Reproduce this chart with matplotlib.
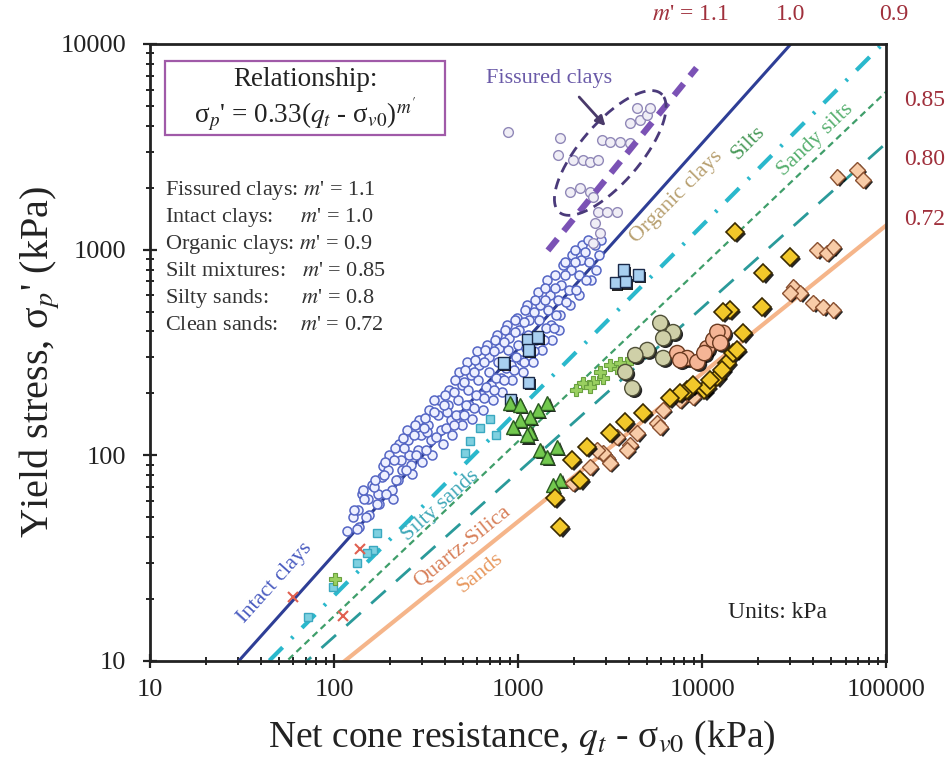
import numpy as np
import matplotlib.pyplot as plt
import matplotlib.patheffects as pe
from matplotlib.patches import Rectangle

plt.rcParams["font.family"] = ["Liberation Serif", "DejaVu Serif"]
plt.rcParams["mathtext.fontset"] = "stix"

# %%
# Relationship sigma_p' = 0.33 (q_t - sigma_v0)^m'
coef = 0.33
m_values = [1.0, 0.9, 0.85, 0.8, 0.72]
m_fissured = 1.1
fissured_range = [1450, 9300]

x_ticks = [10, 100, 1000, 10000, 100000]
y_ticks = [10, 100, 1000, 10000]

# %%
# Intact clays (open blue circles)
intact_q = [
    118, 126,
    134, 141, 137,
    152, 160, 155,
    172, 181, 176, 184,
    196, 205, 199, 208,
    222, 231, 226, 235,
    252, 262, 256, 266, 249,
    285, 298, 290, 301,
    322, 336, 328, 341, 318,
    368, 381, 372, 390,
    415, 432, 421, 438, 410,
    470, 492, 480, 498, 476,
    535, 556, 541, 560, 530,
    605, 628, 615, 640, 598,
    690, 712, 698, 725, 680,
    780, 806, 790, 820, 770,
    880, 915, 895, 930, 870,
    1000, 1040, 1015, 1060, 990,
    1130, 1175, 1150, 1200, 1120,
    1290, 1330, 1305, 1350, 1280,
    1460, 1510, 1480, 1530, 1440,
    1650, 1710, 1680, 1740, 1660,
    1880, 1940, 1900, 1970,
    2130, 2200, 2150, 2230,
    2420, 2480, 2400,
    2750, 2820,
]
intact_sig = [
    43, 50,
    54, 65, 45,
    61, 72, 51,
    65, 78, 58, 89,
    85, 68, 100, 61,
    76, 95, 113, 85,
    119, 90, 100, 81, 133,
    106, 126, 148, 93,
    140, 119, 166, 100, 130,
    157, 133, 186, 113,
    176, 148, 208, 126, 162,
    186, 220, 157, 140, 255,
    208, 245, 176, 150, 285,
    232, 197, 275, 166, 320,
    255, 220, 300, 186, 345,
    285, 237, 333, 204, 385,
    325, 275, 372, 232, 430,
    345, 291, 407, 255, 465,
    385, 325, 455, 285, 538,
    455, 372, 538, 325, 625,
    509, 430, 600, 364, 712,
    569, 673, 480, 840, 407,
    636, 796, 538, 940,
    755, 890, 600, 1050,
    870, 712, 1114,
    940, 1114,
]
intact_q2 = [
    128, 133,
    145, 149, 143,
    164, 170, 166,
    186, 192, 188,
    211, 217, 213,
    240, 246, 238,
    272, 280, 275,
    308, 316, 311,
    350, 358, 347,
    396, 405, 399,
    450, 460, 452, 447,
    510, 522, 514, 507,
    578, 590, 582, 575,
    655, 668, 660, 650,
    742, 756, 748, 738,
    842, 858, 848, 836,
    955, 972, 960, 950,
    1080, 1100, 1090, 1075,
    1225, 1250, 1235, 1220,
    1390, 1415, 1400, 1385,
    1575, 1600, 1585, 1570,
    1790, 1815, 1800,
    2030, 2060, 2040,
    2300, 2330,
    2600, 2650,
]
intact_sig2 = [
    54, 44,
    61, 50, 68,
    70, 58, 76,
    80, 65, 93,
    95, 76, 108,
    108, 85, 122,
    126, 100, 140,
    135, 106, 151,
    162, 123, 186,
    176, 135, 197,
    204, 157, 232, 140,
    227, 176, 260, 157,
    255, 197, 291, 170,
    285, 214, 325, 190,
    320, 237, 364, 208,
    356, 266, 407, 232,
    398, 300, 455, 260,
    445, 333, 509, 285,
    498, 364, 569, 320,
    569, 416, 650, 364,
    650, 480, 755, 416,
    755, 556, 870,
    870, 636, 995,
    970, 712,
    1050, 796,
]

# Fissured clays (grey open circles)
fiss_q = [1690, 1650, 1990, 2250, 2460, 2720, 2860, 3160, 3580, 4060, 4060, 4600, 5030,
          4440, 5210, 1920, 2170, 2460, 2560, 2720, 3050, 3450, 2620, 2790, 2560, 880]
fiss_sig = [3490, 2880, 2730, 2730, 2670, 2730, 3410, 3330, 3330, 3300, 4120, 4270, 4510,
            4880, 4880, 1900, 1990, 1900, 1800, 1520, 1520, 1520, 1350, 1200, 1080, 3730]

# Blue squares
sq_q = [3724, 3365, 3817, 4487, 1119, 1268, 1133, 828, 1133, 905]
sq_sig = [796, 689, 697, 753, 364, 376, 325, 281, 227, 186]

# Silty sands (cyan)
silty_q = [163, 151, 133, 98, 72, 171, 550, 620, 700, 515, 760]
silty_sig = [34.7, 33.5, 30, 22.9, 16.4, 42, 118, 135, 150, 103, 125]

# Silts (green triangles)
tri_q = [905, 1026, 1439, 1285, 1163, 1026, 940, 1163, 1119, 1318, 1439, 1630, 1693, 1550]
tri_sig = [180, 176, 180, 166, 153, 148, 137, 130, 125, 106, 98, 110, 76, 72]

# Sandy silts (light green crosses)
cross_q = [2254, 2557, 2897, 3452, 3162, 3908, 2463, 3581, 2792, 2050, 101]
cross_sig = [224, 227, 238, 266, 275, 281, 215, 281, 255, 208, 25]

# Khaki circles
khaki_q = [5916, 6950, 6137, 5028, 4325, 6137, 4168, 3817]
khaki_sig = [440, 397, 371, 325, 307, 297, 212, 254]

# Orange circles
orange_q = [7310, 8280, 9400, 10640, 11480, 13000, 12080, 12530, 10260, 7590]
orange_sig = [314, 297, 284, 332, 364, 394, 398, 352, 314, 290]

# Quartz-silica sands (yellow diamonds)
yel_q = [1693, 1589, 2175, 1963, 2371, 3162, 3817, 4775, 14190, 16710, 21190, 21460,
         30060, 15100, 13000, 10260, 12080, 13680, 14730, 15490, 10640, 8280, 7590,
         6700, 8930, 11040, 12850]
yel_sig = [44.8, 62, 76, 95, 110, 128, 145, 161, 508, 393, 526, 769,
           920, 1219, 497, 207, 240, 281, 314, 325, 215, 207, 201,
           190, 220, 232, 260]

# Sands (peach diamonds)
peach_q = [3048, 4061, 4436, 5690, 6137, 7590, 8280, 5916, 2897, 3162, 3452, 3908,
           2686, 2463, 1990, 8930, 31260, 34120, 40090, 45450, 51560, 30060, 54200,
           69550, 74980, 42170, 47750, 51560]
peach_sig = [97, 112, 128, 144, 166, 186, 201, 137, 103, 92, 123, 106,
             106, 88, 73, 192, 658, 615, 550, 526, 508, 615, 2254,
             2438, 2177, 995, 962, 1031]

# Odd small crosses
red_q = [60, 138, 112]
red_sig = [20.5, 35, 16.5]

# Ellipse around fissured clays (log-space centre / semi-axes in decades)
ell_center = (3162, 2951)
ell_axes = (0.40, 0.155)
ell_angle = 45

legend_lines = [
    "Fissured clays: $m$' = 1.1",
    "Intact clays:     $m$' = 1.0",
    "Organic clays: $m$' = 0.9",
    "Silt mixtures:   $m$' = 0.85",
    "Silty sands:      $m$' = 0.8",
    "Clean sands:    $m$' = 0.72",
]

# %%
fig = plt.figure(figsize=(9.5, 7.58), dpi=100)
ax = fig.add_axes([0.158, 0.128, 0.775, 0.814])
ax.set_xscale("log")
ax.set_yscale("log")
ax.set_xlim(10, 100000)
ax.set_ylim(10, 10000)

q_line = np.logspace(1, 5, 300)
line_styles = [
    dict(color="#2e3e96", lw=2.2, ls="-"),
    dict(color="#2ab8cc", lw=3.0, dashes=(4.5, 3, 0.6, 3)),
    dict(color="#3f9e6a", lw=1.6, dashes=(3, 2)),
    dict(color="#2a9a9a", lw=2.0, dashes=(7, 5)),
    dict(color="#f5b58a", lw=3.0, ls="-"),
]
for m, st in zip(m_values, line_styles):
    ax.plot(q_line, coef * q_line ** m, zorder=2, **st)

shadow = [pe.SimplePatchShadow(offset=(1.6, -1.6), shadow_rgbFace="black", alpha=0.85), pe.Normal()]

ax.plot(intact_q, intact_sig, "o", ms=6.5, mfc="#eef0ff", mec="#5566c4", mew=1.1, zorder=3)
ax.plot(intact_q2, intact_sig2, "o", ms=6.5, mfc="#eef0ff", mec="#5566c4", mew=1.1, zorder=3)
ax.plot(fiss_q, fiss_sig, "o", ms=7, mfc="#f0eef6", mec="#9088b8", mew=1.0, zorder=3)
ax.plot(silty_q, silty_sig, "s", ms=5.5, mfc="#7fd0e0", mec="#3aa8c0", mew=1.0, zorder=3)
ax.plot(sq_q, sq_sig, "s", ms=8, mfc="#a8cff0", mec="#1a2a4a", mew=1.0, zorder=4, path_effects=shadow)
ax.plot(tri_q, tri_sig, "^", ms=10, mfc="#72c84e", mec="#2a5a20", mew=1.0, zorder=4, path_effects=shadow)
ax.plot(cross_q, cross_sig, "P", ms=9, mfc="#9ad060", mec="#6aa040", mew=0.8, zorder=4)
ax.plot(khaki_q, khaki_sig, "o", ms=11, mfc="#cfd0a8", mec="#505038", mew=1.0, zorder=4, path_effects=shadow)
ax.plot(orange_q, orange_sig, "o", ms=11, mfc="#f5b596", mec="#6a3a20", mew=1.0, zorder=4, path_effects=shadow)
ax.plot(peach_q, peach_sig, "D", ms=8, mfc="#f8cca8", mec="#8a5030", mew=1.0, zorder=4, path_effects=shadow)
ax.plot(yel_q, yel_sig, "D", ms=9, mfc="#f2c82a", mec="#3a2a00", mew=1.2, zorder=5, path_effects=shadow)
ax.plot(red_q, red_sig, "x", ms=7, mec="#e06050", mew=1.5, zorder=3)

# Fissured clays: m' = 1.1 band and ellipse
q_f = np.logspace(np.log10(fissured_range[0]), np.log10(fissured_range[1]), 50)
ax.plot(q_f, coef * q_f ** m_fissured, color="#7b52b5", lw=4.5, dashes=(2.4, 1.6), zorder=6)

t = np.linspace(0, 2 * np.pi, 200)
phi = np.radians(ell_angle)
ex = ell_axes[0] * np.cos(t) * np.cos(phi) - ell_axes[1] * np.sin(t) * np.sin(phi)
ey = ell_axes[0] * np.cos(t) * np.sin(phi) + ell_axes[1] * np.sin(t) * np.cos(phi)
ax.plot(ell_center[0] * 10 ** ex, ell_center[1] * 10 ** ey, color="#4a3a7a", lw=2.0,
        dashes=(4, 2.5), zorder=6)

ax.annotate("", xy=(3048, 3898), xytext=(2094, 5650),
            arrowprops=dict(arrowstyle="-|>", color="#4a3a6a", lw=2, mutation_scale=14), zorder=7)
ax.text(1472, 6820, "Fissured clays", color="#6a5aa8", fontsize=16, ha="center", va="center")

# line labels
lab = dict(ha="center", va="center", fontsize=16, rotation_mode="anchor")
ax.text(47.8, 23.9, "Intact clays", color="#4a5cc0", rotation=48, **lab)
ax.text(377, 57, "Silty sands", color="#40a8b8", rotation=42, **lab)
ax.text(497, 35.8, "Quartz-Silica", color="#d8805a", rotation=39, **lab)
ax.text(621, 26.8, "Sands", color="#e89a60", rotation=39, **lab)
ax.text(7230, 1803, "Organic clays", color="#b8a070", rotation=45, **lab)
ax.text(17780, 3296, "Silts", color="#4a9a5a", rotation=45, **lab)
ax.text(41100, 3412, "Sandy silts", color="#58b070", rotation=43.5, **lab)

# relationship box
ax.add_patch(Rectangle((0.020, 0.852), 0.381, 0.121, transform=ax.transAxes,
                       fc="white", ec="#a05aa8", lw=1.6, zorder=6))
ax.text(0.211, 0.942, "Relationship:", transform=ax.transAxes, ha="center", va="center",
        fontsize=19.5, color="#222222", zorder=7)
ax.text(0.211, 0.886, "σ$_p$' = 0.33($q_t$ - σ$_{v0}$)$^{m'}$", transform=ax.transAxes,
        ha="center", va="center", fontsize=19.5, color="#222222", zorder=7)

for i, s in enumerate(legend_lines):
    ax.text(0.02, 0.762 - i * 0.0438, s, transform=ax.transAxes, ha="left", va="center",
            fontsize=16, color="#333333")

ax.text(0.852, 0.078, "Units: kPa", transform=ax.transAxes, ha="center", va="center",
        fontsize=17, color="#222222")

# m' labels outside the frame
rc = "#a0303c"
ax.text(0.734, 1.047, "$m$' = 1.1", transform=ax.transAxes, ha="center", va="center",
        fontsize=17, color=rc, clip_on=False)
ax.text(0.870, 1.047, "1.0", transform=ax.transAxes, ha="center", va="center",
        fontsize=17, color=rc, clip_on=False)
ax.text(1.010, 1.047, "0.9", transform=ax.transAxes, ha="center", va="center",
        fontsize=17, color=rc, clip_on=False)
for y, s in zip([0.909, 0.812, 0.715], ["0.85", "0.80", "0.72"]):
    ax.text(1.024, y, s, transform=ax.transAxes, ha="left", va="center",
            fontsize=17, color=rc, clip_on=False)

ax.set_xticks(x_ticks)
ax.set_xticklabels([str(v) for v in x_ticks])
ax.set_yticks(y_ticks)
ax.set_yticklabels([str(v) for v in y_ticks])
ax.tick_params(which="major", direction="inout", length=10, width=1.6, labelsize=19,
               colors="#222222", top=False, right=False)
ax.tick_params(axis="y", which="major", pad=12)
ax.tick_params(axis="x", which="major", pad=8)
ax.tick_params(which="minor", direction="inout", length=6, width=1.2, top=False, right=False)
for sp in ax.spines.values():
    sp.set_linewidth(2)
    sp.set_color("#222222")

ax.set_xlabel("Net cone resistance, $q_t$ - σ$_{v0}$ (kPa)", fontsize=27, color="#222222")
ax.set_ylabel("Yield stress, σ$_p$' (kPa)", fontsize=29, color="#222222")
ax.xaxis.set_label_coords(0.505, -0.093)
ax.yaxis.set_label_coords(-0.12, 0.485)

fig.savefig("out.png", dpi=100)
